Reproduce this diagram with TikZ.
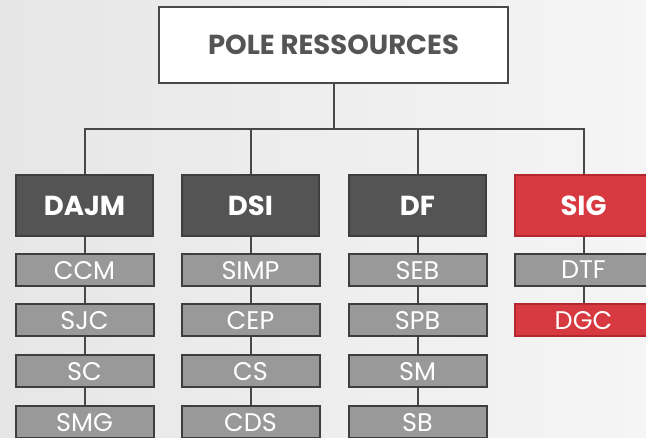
\documentclass[tikz,border=0pt]{standalone}
\usepackage{fontspec}
\setmainfont{Poppins}
\usetikzlibrary{positioning}
\definecolor{bgleft}{RGB}{230,230,230}
\definecolor{bgright}{RGB}{245,245,245}
\definecolor{linegray}{RGB}{72,72,72}
\definecolor{textgray}{RGB}{85,85,85}
\definecolor{darkbox}{RGB}{84,84,84}
\definecolor{boxedge}{RGB}{62,62,62}
\definecolor{unitgray}{RGB}{153,153,153}
\definecolor{redbox}{RGB}{214,58,64}
\definecolor{rededge}{RGB}{178,40,46}

\begin{document}
\begin{tikzpicture}[x=1pt, y=-1pt,
    chief/.style={draw=linegray, line width=1.8pt, fill=white, minimum width=349pt, minimum height=76pt, inner sep=0pt, text=textgray, text depth=0pt, font=\fontsize{27.5}{30}\selectfont\bfseries},
    dept/.style={draw=boxedge, line width=2pt, fill=darkbox, minimum width=137pt, minimum height=61pt, inner sep=0pt, text=white, text depth=0pt, font=\fontsize{27.5}{30}\selectfont\bfseries},
    redept/.style={dept, draw=rededge, fill=redbox},
    unit/.style={draw=boxedge, line width=2pt, fill=unitgray, minimum width=138pt, minimum height=32pt, inner sep=0pt, text=white, text depth=0pt, font=\fontsize{25.5}{27}\selectfont},
    redunit/.style={unit, draw=rededge, fill=redbox},
    link/.style={draw=linegray, line width=2pt}]

        % Background
        \useasboundingbox (0,0) rectangle (646,437);
        \clip (0,0) rectangle (646,437);
        \fill[left color=bgleft, right color=bgright] (0,0) rectangle (646,437);

        % Top box and departments
        \node[chief] (pole) at (333.5,45) {POLE RESSOURCES};
        \node[dept] (dajm) at (84.5,205.5) {DAJM};
        \node[dept] (dsi) at (250.5,205.5) {DSI};
        \node[dept] (df) at (417.5,205.5) {DF};
        \node[redept] (sig) at (583.5,205.5) {SIG};

        % Units
        \node[unit, below=16pt of dajm] (ccm) {CCM};
        \node[unit, below=16pt of ccm] (sjc) {SJC};
        \node[unit, below=17pt of sjc] (sc) {SC};
        \node[unit, below=17pt of sc] (smg) {SMG};

        \node[unit, below=16pt of dsi] (simp) {SIMP};
        \node[unit, below=16pt of simp] (cep) {CEP};
        \node[unit, below=17pt of cep] (cs) {CS};
        \node[unit, below=17pt of cs] (cds) {CDS};

        \node[unit, below=16pt of df] (seb) {SEB};
        \node[unit, below=16pt of seb] (spb) {SPB};
        \node[unit, below=17pt of spb] (sm) {SM};
        \node[unit, below=17pt of sm] (sb) {SB};

        \node[unit, below=16pt of sig] (dtf) {DTF};
        \node[redunit, below=16pt of dtf] (dgc) {DGC};

        % Links
        \coordinate (bus) at (333.5,129);
        \draw[link] (pole.south) -- (bus);
        \draw[link] (dajm.north) |- (bus) -| (sig.north);
        \draw[link] (dsi.north) -- (dsi.north |- bus);
        \draw[link] (df.north) -- (df.north |- bus);

        \draw[link] (dajm) -- (ccm) (ccm) -- (sjc) (sjc) -- (sc) (sc) -- (smg);
        \draw[link] (dsi) -- (simp) (simp) -- (cep) (cep) -- (cs) (cs) -- (cds);
        \draw[link] (df) -- (seb) (seb) -- (spb) (spb) -- (sm) (sm) -- (sb);
        \draw[link] (sig) -- (dtf) (dtf) -- (dgc);
    \end{tikzpicture}
\end{document}
